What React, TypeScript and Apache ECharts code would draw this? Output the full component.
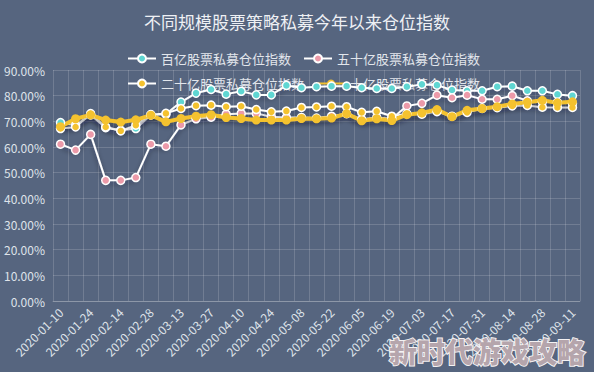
import React, { useEffect, useRef } from "react";
import * as echarts from "echarts";

const categories = [
  "2020-01-10", "2020-01-17", "2020-01-24", "2020-02-07", "2020-02-14", "2020-02-21", "2020-02-28",
  "2020-03-06", "2020-03-13", "2020-03-20", "2020-03-27", "2020-04-03", "2020-04-10", "2020-04-17",
  "2020-04-24", "2020-04-30", "2020-05-08", "2020-05-15", "2020-05-22", "2020-05-29", "2020-06-05",
  "2020-06-12", "2020-06-19", "2020-06-24", "2020-07-03", "2020-07-10", "2020-07-17", "2020-07-24",
  "2020-07-31", "2020-08-07", "2020-08-14", "2020-08-21", "2020-08-28", "2020-09-04", "2020-09-11",
];

const seriesNames = [
  "百亿股票私募仓位指数",
  "五十亿股票私募仓位指数",
  "二十亿股票私募仓位指数",
  "十亿股票私募仓位指数",
];

const tenBillion = [
  69.5, 68.5, 72.5, 67.5, 66.5, 67.2, 72.5, 72.8, 77.5, 81.0, 82.4, 80.6, 81.7, 80.3, 80.3, 84.0, 83.1, 83.5,
  83.7, 83.7, 83.1, 82.8, 82.8, 83.5, 84.4, 84.1, 82.2, 81.9, 81.9, 83.5, 83.7, 81.9, 81.9, 80.5, 80.0,
];
const fiveBillion = [
  61.1, 58.8, 64.9, 47.0, 47.0, 48.1, 61.1, 60.3, 68.6, 71.0, 71.6, 72.8, 73.1, 73.1, 71.8, 71.5, 71.5, 71.3,
  72.0, 73.0, 70.8, 71.5, 71.0, 76.0, 77.0, 80.2, 79.2, 80.2, 78.6, 78.6, 80.0, 78.0, 77.6, 77.4, 77.0,
];
const twoBillion = [
  67.2, 67.8, 73.0, 67.8, 66.3, 68.5, 72.6, 73.1, 75.0, 76.1, 76.3, 75.7, 75.9, 74.6, 73.7, 74.0, 75.4, 75.6,
  75.9, 75.7, 73.5, 73.9, 72.0, 73.0, 72.8, 73.8, 72.0, 73.5, 75.0, 75.3, 76.0, 76.2, 75.5, 75.4, 75.4,
];
const oneBillion = [
  67.9, 71.0, 72.5, 70.5, 69.7, 70.6, 72.4, 69.8, 71.1, 72.0, 72.6, 71.5, 71.1, 70.5, 70.5, 70.5, 71.1, 71.0,
  71.3, 73.0, 70.2, 71.0, 70.3, 72.6, 73.3, 74.6, 71.8, 74.3, 75.0, 75.7, 76.8, 77.4, 78.2, 77.2, 77.6,
];

const markerColors = ["#5fd6d2", "#ec9aa9", "#f4c22f", "#f4c22f"];

export default function App() {
  const ref = useRef<HTMLDivElement>(null);
  useEffect(() => {
    if (!ref.current) return;
    const chart = echarts.init(ref.current, undefined, { renderer: "svg" });
    const font = "'Noto Sans CJK SC', 'Noto Sans', sans-serif";
    const shadow = {
      shadowColor: "rgba(20,25,40,0.45)",
      shadowBlur: 5,
      shadowOffsetY: 3,
    };
    const whiteSeries = (name: string, data: number[], color: string) => ({
      name,
      type: "line",
      data,
      symbol: "circle",
      symbolSize: 8,
      itemStyle: { color, borderColor: "#ffffff", borderWidth: 1.5 },
      lineStyle: { color: "#ffffff", width: 2, ...shadow },
    });
    chart.setOption({
      animation: false,
      backgroundColor: "#56657f",
      textStyle: { fontFamily: font },
      title: {
        text: "不同规模股票策略私募今年以来仓位指数",
        left: "center",
        top: 8,
        textStyle: { color: "#eef0f4", fontSize: 17, fontWeight: "normal", fontFamily: font },
      },
      legend: {
        left: 122,
        top: 47,
        width: 360,
        z: 1,
        itemWidth: 28,
        itemHeight: 10,
        itemGap: 12,
        textStyle: { color: "#e2e6ec", fontSize: 13, fontFamily: font },
        data: seriesNames,
      },
      grid: { left: 53, right: 14, top: 70, bottom: 71 },
      xAxis: {
        type: "category",
        data: categories,
        boundaryGap: true,
        axisLine: { lineStyle: { color: "rgba(255,255,255,0.2)" } },
        axisTick: { show: false },
        axisLabel: {
          interval: 1,
          rotate: 45,
          color: "#dfe3ea",
          fontSize: 12,
          fontFamily: font,
          margin: 9,
        },
        splitLine: { show: true, interval: 0, lineStyle: { color: "rgba(255,255,255,0.16)" } },
      },
      yAxis: {
        type: "value",
        min: 0,
        max: 90,
        interval: 10,
        axisLine: { show: false },
        axisTick: { show: false },
        axisLabel: {
          color: "#dfe3ea",
          fontSize: 12,
          fontFamily: font,
          margin: 8,
          formatter: (v: number) => v.toFixed(2) + "%",
        },
        splitLine: { lineStyle: { color: "rgba(255,255,255,0.16)" } },
      },
      series: [
        whiteSeries(seriesNames[0], tenBillion, markerColors[0]),
        whiteSeries(seriesNames[1], fiveBillion, markerColors[1]),
        whiteSeries(seriesNames[2], twoBillion, markerColors[2]),
        {
          name: seriesNames[3],
          type: "line",
          data: oneBillion,
          symbol: "circle",
          symbolSize: 9,
          itemStyle: { color: markerColors[3] },
          lineStyle: { color: markerColors[3], width: 4, ...shadow },
        },
      ],
      graphic: [
        {
          type: "text",
          right: 8,
          bottom: 6,
          z: 100,
          style: {
            text: "新时代游戏攻略",
            fill: "#b5a5ac",
            stroke: "#f4f2f3",
            lineWidth: 2,
            font: `900 28px ${font}`,
          },
        },
      ],
    });
    return () => chart.dispose();
  }, []);
  return (
    <div
      ref={ref}
      style={{ position: "fixed", left: 0, top: 0, width: 594, height: 372 }}
    />
  );
}
